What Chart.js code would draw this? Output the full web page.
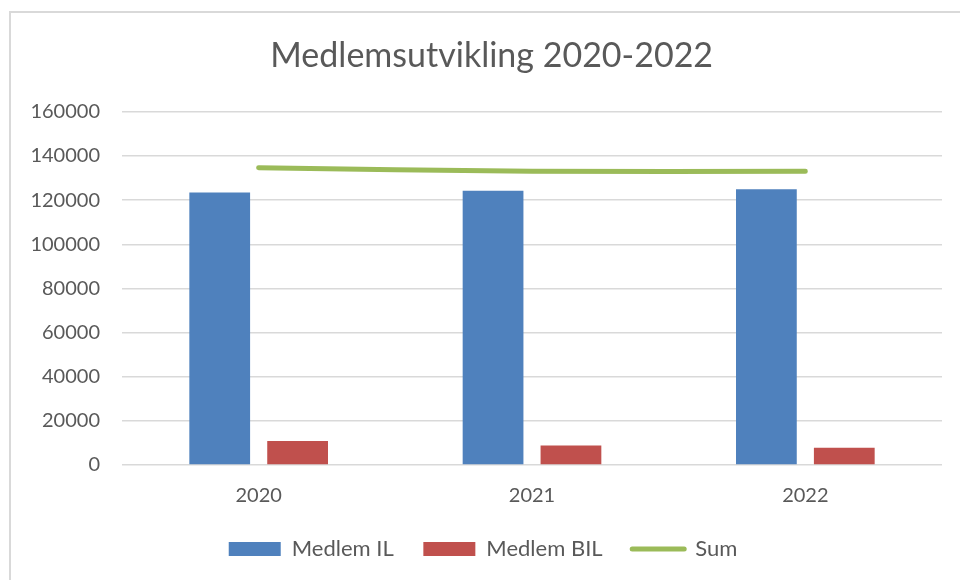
<!DOCTYPE html>
<html>
<head>
<meta charset="utf-8">
<script src="https://cdn.jsdelivr.net/npm/chart.js@4"></script>
<style>
  html, body { margin: 0; padding: 0; background: #fff; }
  #wrap { position: relative; width: 960px; height: 580px; overflow: hidden; }
  #frame { position: absolute; left: 9px; top: 11px; width: 1000px; height: 600px;
           border-top: 2px solid #d9d9d9; border-left: 2px solid #d9d9d9; }
  canvas { position: absolute; left: 0; top: 0; }
</style>
</head>
<body>
<div id="wrap">
  <div id="frame"></div>
  <canvas id="medlem" width="960" height="580"></canvas>
</div>
<script>
/* Medlemsutvikling 2020-2022 */
const years = ["2020", "2021", "2022"];
const medlemIL = [123400, 124200, 124900];
const medlemBIL = [10900, 8800, 7800];
const sumMedlem = [134700, 133100, 133100];

const FONT = "Lato, 'Open Sans', sans-serif";
const GREY = "#595959";

const ctx = document.getElementById("medlem").getContext("2d");
let chart = new Chart(ctx, {
	type: "bar",
	data: {
		labels: years,
		datasets: [
			{
				label: "Medlem IL",
				data: medlemIL,
				backgroundColor: "#4f81bd",
				borderWidth: 0,
				categoryPercentage: 0.57,
				barPercentage: 0.78,
			},
			{
				label: "Medlem BIL",
				data: medlemBIL,
				backgroundColor: "#c0504d",
				borderWidth: 0,
				categoryPercentage: 0.57,
				barPercentage: 0.78,
			},
			{
				type: "line",
				label: "Sum",
				data: sumMedlem,
				borderColor: "#9bbb59",
				backgroundColor: "#9bbb59",
				borderWidth: 5,
				borderCapStyle: "round",
				pointRadius: 0,
				tension: 0.4,
				fill: false,
			}
		],
	},
	options: {
		responsive: false,
		animation: false,
		layout: {
			padding: { left: 24, right: 18, top: 20, bottom: 10 }
		},
		scales: {
			y: {
				min: 0,
				max: 160000,
				afterFit: function (s) { s.width = 98; },
				ticks: {
					stepSize: 20000,
					color: GREY,
					padding: 22,
					font: { family: FONT, size: 20 },
					callback: function (v) { return String(v); },
				},
				grid: { color: "#d9d9d9", lineWidth: 1.5, drawTicks: false },
				border: { display: false },
			},
			x: {
				ticks: {
					color: GREY,
					padding: 11,
					font: { family: FONT, size: 20 },
				},
				grid: { display: false },
				border: { display: false },
			}
		},
		plugins: {
			title: {
				display: true,
				text: "\u00a0\u00a0Medlemsutvikling 2020-2022",
				color: GREY,
				font: { family: FONT, size: 34, weight: "normal" },
				padding: { top: 16, bottom: 35 },
			},
			legend: {
				position: "bottom",
				labels: {
					color: GREY,
					font: { family: FONT, size: 22 },
					usePointStyle: true,
					pointStyleWidth: 52,
					boxHeight: 14,
					padding: 19,
					generateLabels: function (c) {
						const items = Chart.defaults.plugins.legend.labels.generateLabels(c);
						items.forEach(function (it) {
							if (it.datasetIndex === 2) {
								it.pointStyle = "line";
								it.lineWidth = 5;
								it.lineCap = "round";
							} else {
								it.pointStyle = "rect";
								it.lineWidth = 0;
								it.text = it.text + "\u00a0\u00a0";
							}
						});
						return items;
					}
				}
			},
			tooltip: { enabled: false }
		}
	},
});
</script>
</body>
</html>
